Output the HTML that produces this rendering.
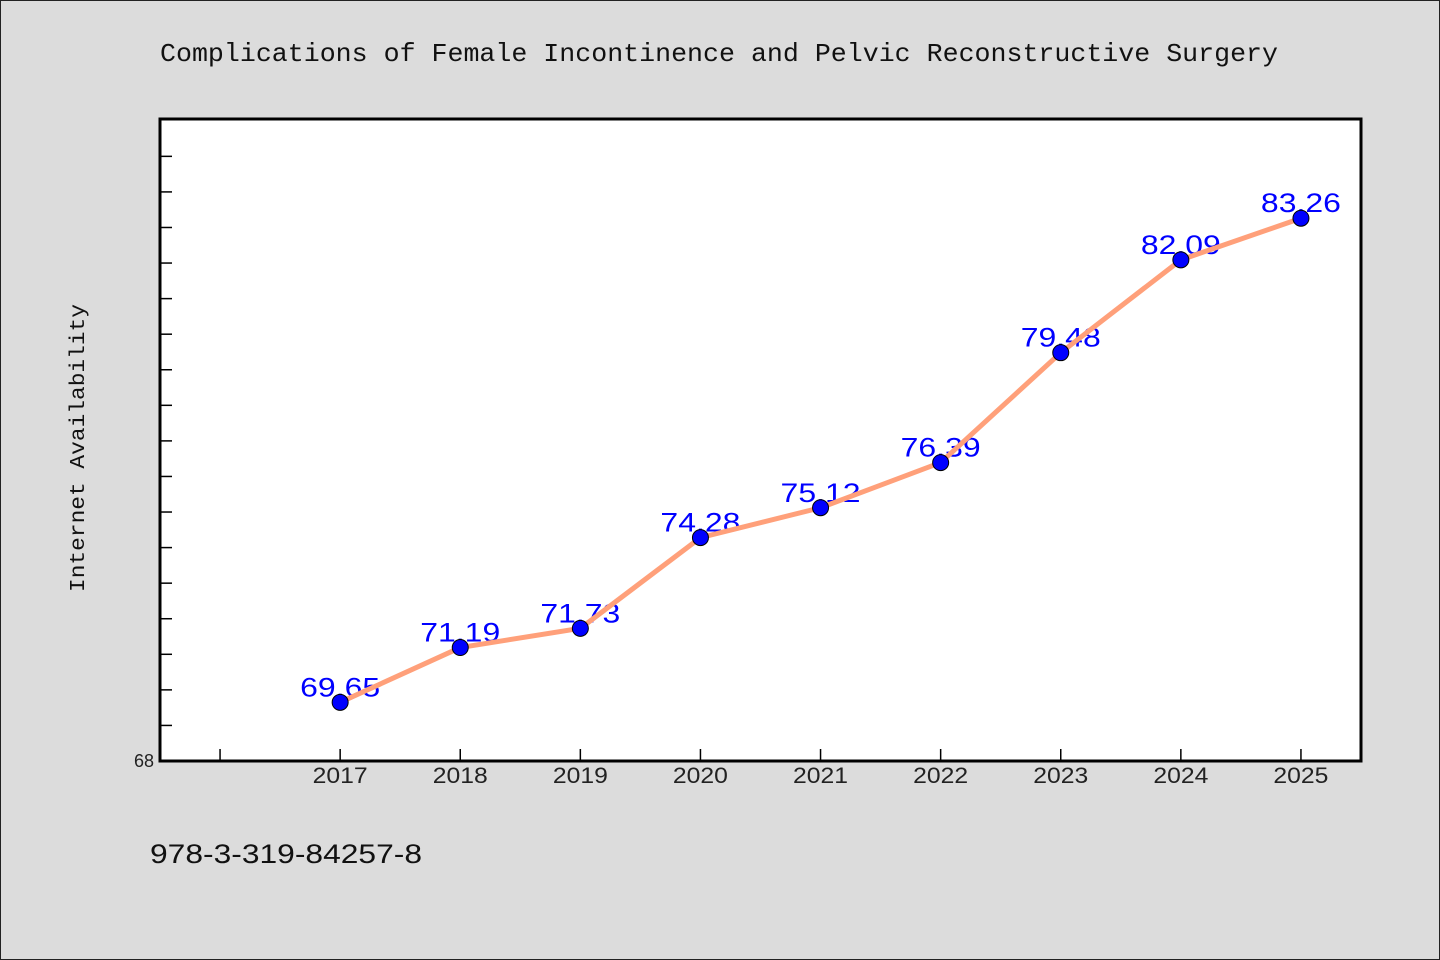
<!DOCTYPE html>
<html><head><meta charset="utf-8"><style>
html,body{margin:0;padding:0;background:#dcdcdc;}
svg{display:block;font-family:"Liberation Sans","Noto Sans CJK SC",sans-serif;}
.mono{font-family:"Liberation Mono","Noto Sans CJK SC",monospace;}
</style></head><body>
<svg id="chart" width="1440" height="960" viewBox="0 0 1440 960">
<rect x="0.5" y="0.5" width="1439" height="959" fill="#dcdcdc" stroke="#222" stroke-width="1"/>
<text class="mono" x="160" y="61" font-size="26" textLength="1118" lengthAdjust="spacingAndGlyphs" fill="#111">Complications of Female Incontinence and Pelvic Reconstructive Surgery</text>
<rect x="160" y="119" width="1201" height="642" fill="#fff" stroke="#000" stroke-width="3"/>
<text class="mono" transform="translate(84,448) rotate(-90)" text-anchor="middle" font-size="21" textLength="288" lengthAdjust="spacingAndGlyphs" fill="#111">Internet Availability</text>
<text x="150" y="863" font-size="27" textLength="272" lengthAdjust="spacingAndGlyphs" fill="#111">978-3-319-84257-8</text>
<g id="ticks"></g><g id="labels"></g><g id="series"></g>
</svg>
<script>
const years = [2017,2018,2019,2020,2021,2022,2023,2024,2025];
const values = [69.65,71.19,71.73,74.28,75.12,76.39,79.48,82.09,83.26];
const yTickLabels = ["68"];
const ns="http://www.w3.org/2000/svg";
const X0=160,X1=1361,Y0=761,Y1=119,xmin=2015.5,xmax=2025.5,ymin=68,ymax=86.05;
const xs=v=>X0+(v-xmin)/(xmax-xmin)*(X1-X0);
const ys=v=>Y0-(v-ymin)/(ymax-ymin)*(Y0-Y1);
function mk(tag,attrs,parent){const e=document.createElementNS(ns,tag);for(const k in attrs)e.setAttribute(k,attrs[k]);parent.appendChild(e);return e;}
const tg=document.getElementById('ticks'),lg=document.getElementById('labels'),sg=document.getElementById('series');
for(let v=69;v<=85;v++){const y=ys(v);const t=mk('line',{x1:X0,x2:X0+12,y1:y,y2:y,stroke:'#000','stroke-width':1.5},tg);

}
yTickLabels.forEach(s=>{const t=mk('text',{x:X0-6,y:ys(+s)+6,'text-anchor':'end','font-size':18,fill:'#222'},tg);t.textContent=s;

});
const tickYears=[2016].concat(years);
tickYears.forEach(yr=>{const x=xs(yr);const t=mk('line',{x1:x,x2:x,y1:Y0,y2:Y0-12,stroke:'#000','stroke-width':1.5},tg);

});
years.forEach(yr=>{const t=mk('text',{x:xs(yr),y:Y0+22,'text-anchor':'middle','font-size':22,textLength:55,lengthAdjust:'spacingAndGlyphs',fill:'#222'},tg);t.textContent=yr;

});
years.forEach((yr,i)=>{const t=mk('text',{x:xs(yr),y:ys(values[i])-6,'text-anchor':'middle','font-size':27,textLength:80,lengthAdjust:'spacingAndGlyphs',fill:'#0000ff'},lg);t.textContent=values[i].toFixed(2);

});
const pl=mk('polyline',{points:years.map((yr,i)=>xs(yr)+','+ys(values[i])).join(' '),fill:'none',stroke:'#ffa07a','stroke-width':5,'stroke-linejoin':'round'},sg);


years.forEach((yr,i)=>{const c=mk('circle',{cx:xs(yr),cy:ys(values[i]),r:8,fill:'#0000ff',stroke:'#000','stroke-width':1},sg);

});
</script>
</body></html>
